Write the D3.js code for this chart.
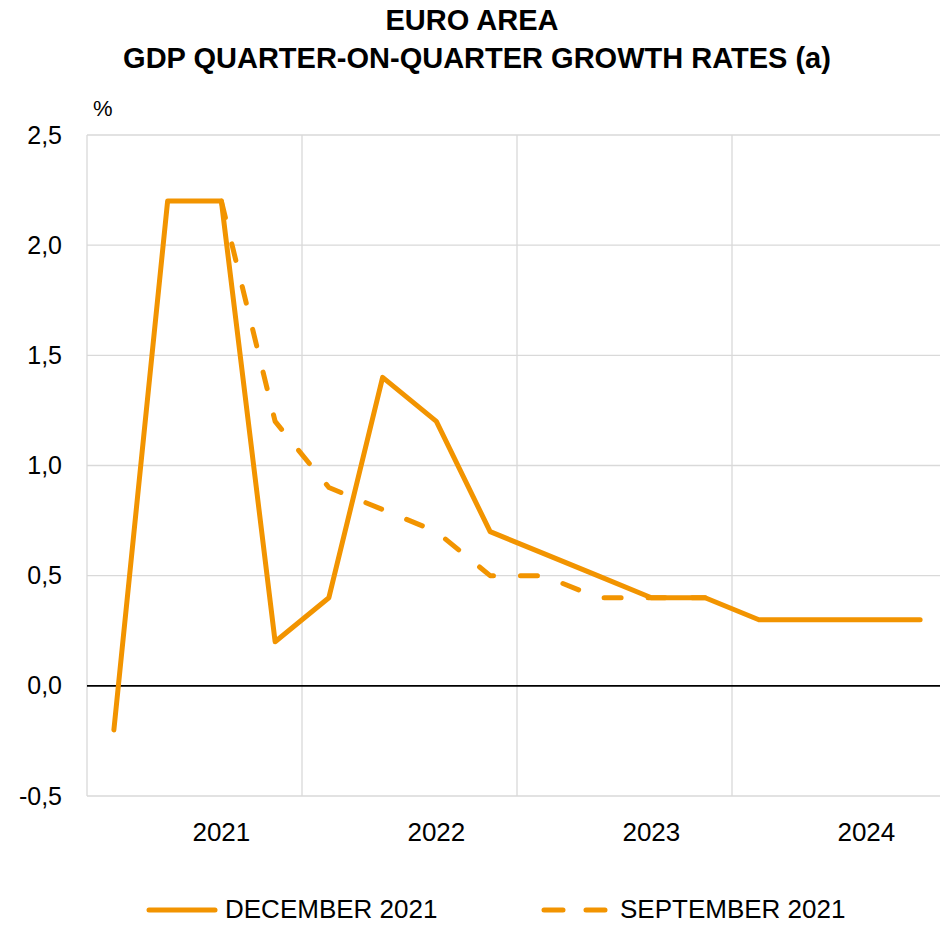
<!DOCTYPE html>
<html><head><meta charset="utf-8">
<script src="https://cdn.jsdelivr.net/npm/d3@7"></script>
<style>body{margin:0;background:#fff}svg{display:block}text{font-family:"Liberation Sans",Arial,sans-serif}</style>
</head><body>
<svg id="c" width="940" height="925"></svg>
<script>
const quarters = ["2021Q1","2021Q2","2021Q3","2021Q4","2022Q1","2022Q2","2022Q3","2022Q4","2023Q1","2023Q2","2023Q3","2023Q4","2024Q1","2024Q2","2024Q3","2024Q4"];
const years = ["2021","2022","2023","2024"];
const december2021 = [-0.2,2.2,2.2,0.2,0.4,1.4,1.2,0.7,0.6,0.5,0.4,0.4,0.3,0.3,0.3,0.3];
const september2021 = [null,null,2.2,1.2,0.9,0.8,0.7,0.5,0.5,0.4,0.4,0.4,null,null,null,null];
const yTicks = [-0.5,0,0.5,1,1.5,2,2.5];
const seriesNames = ["DECEMBER 2021","SEPTEMBER 2021"];
const color = "#F29400";

const svg = d3.select("#c");
const x = d3.scaleBand().domain(quarters).range([87,947]).padding(0);
const xc = q => x(q) + x.bandwidth()/2;
const y = d3.scaleLinear().domain([-0.5,2.5]).range([796,135]);
const fmt = v => d3.format(".1f")(v).replace(".",",").replace("\u2212","-");

// title
svg.append("text").attr("x",472).attr("y",30).attr("text-anchor","middle")
  .attr("font-size",29).attr("font-weight","bold").text("EURO AREA");
svg.append("text").attr("x",477).attr("y",68).attr("text-anchor","middle")
  .attr("font-size",29).attr("font-weight","bold").text("GDP QUARTER-ON-QUARTER GROWTH RATES (a)");
svg.append("text").attr("x",93).attr("y",116).attr("font-size",22).text("%");

// horizontal grid
const g = svg.append("g");
g.selectAll("line.h").data(yTicks.filter(v=>v!==0)).join("line")
  .attr("x1",87).attr("x2",947).attr("y1",d=>y(d)).attr("y2",d=>y(d))
  .attr("stroke","#d9d9d9").attr("stroke-width",1.3);
// vertical grid at year boundaries
g.selectAll("line.v").data(years).join("line")
  .attr("x1",(d,i)=>x(quarters[i*4])).attr("x2",(d,i)=>x(quarters[i*4]))
  .attr("y1",y(2.5)).attr("y2",y(-0.5))
  .attr("stroke","#d9d9d9").attr("stroke-width",1.3);

// y axis labels
const yAxis = d3.axisLeft(y).tickValues(yTicks).tickFormat(fmt).tickSize(0).tickPadding(25);
const ya = svg.append("g").attr("transform","translate(87,0)").call(yAxis);
ya.select(".domain").remove();
ya.selectAll("text").attr("font-size",25).attr("fill","#000").attr("font-family","Liberation Sans, Arial, sans-serif");

// zero line
svg.append("line").attr("x1",87).attr("x2",947).attr("y1",y(0)).attr("y2",y(0))
  .attr("stroke","#000").attr("stroke-width",1.6);

// year labels
svg.selectAll("text.yr").data(years).join("text")
  .attr("x",(d,i)=>xc(quarters[i*4+2])).attr("y",841).attr("text-anchor","middle")
  .attr("font-size",26).text(d=>d);

// lines
const line = d3.line().defined(d=>d.v!==null).x(d=>xc(d.q)).y(d=>y(d.v));
svg.append("path").datum(quarters.map((q,i)=>({q,v:september2021[i]})))
  .attr("d",line).attr("fill","none").attr("stroke",color).attr("stroke-width",5)
  .attr("stroke-dasharray","17,27").attr("stroke-linecap","round").attr("stroke-linejoin","round");
svg.append("path").datum(quarters.map((q,i)=>({q,v:december2021[i]})))
  .attr("d",line).attr("fill","none").attr("stroke",color).attr("stroke-width",5)
  .attr("stroke-linejoin","round").attr("stroke-linecap","round");

// legend
svg.append("line").attr("x1",149).attr("x2",215).attr("y1",910).attr("y2",910)
  .attr("stroke",color).attr("stroke-width",5).attr("stroke-linecap","round");
svg.append("text").attr("x",225).attr("y",918).attr("font-size",26).text(seriesNames[0]);
svg.append("line").attr("x1",544).attr("x2",606).attr("y1",910).attr("y2",910)
  .attr("stroke",color).attr("stroke-width",5).attr("stroke-linecap","round")
  .attr("stroke-dasharray","19,23");
svg.append("text").attr("x",620).attr("y",918).attr("font-size",26).text(seriesNames[1]);
</script>
</body></html>
